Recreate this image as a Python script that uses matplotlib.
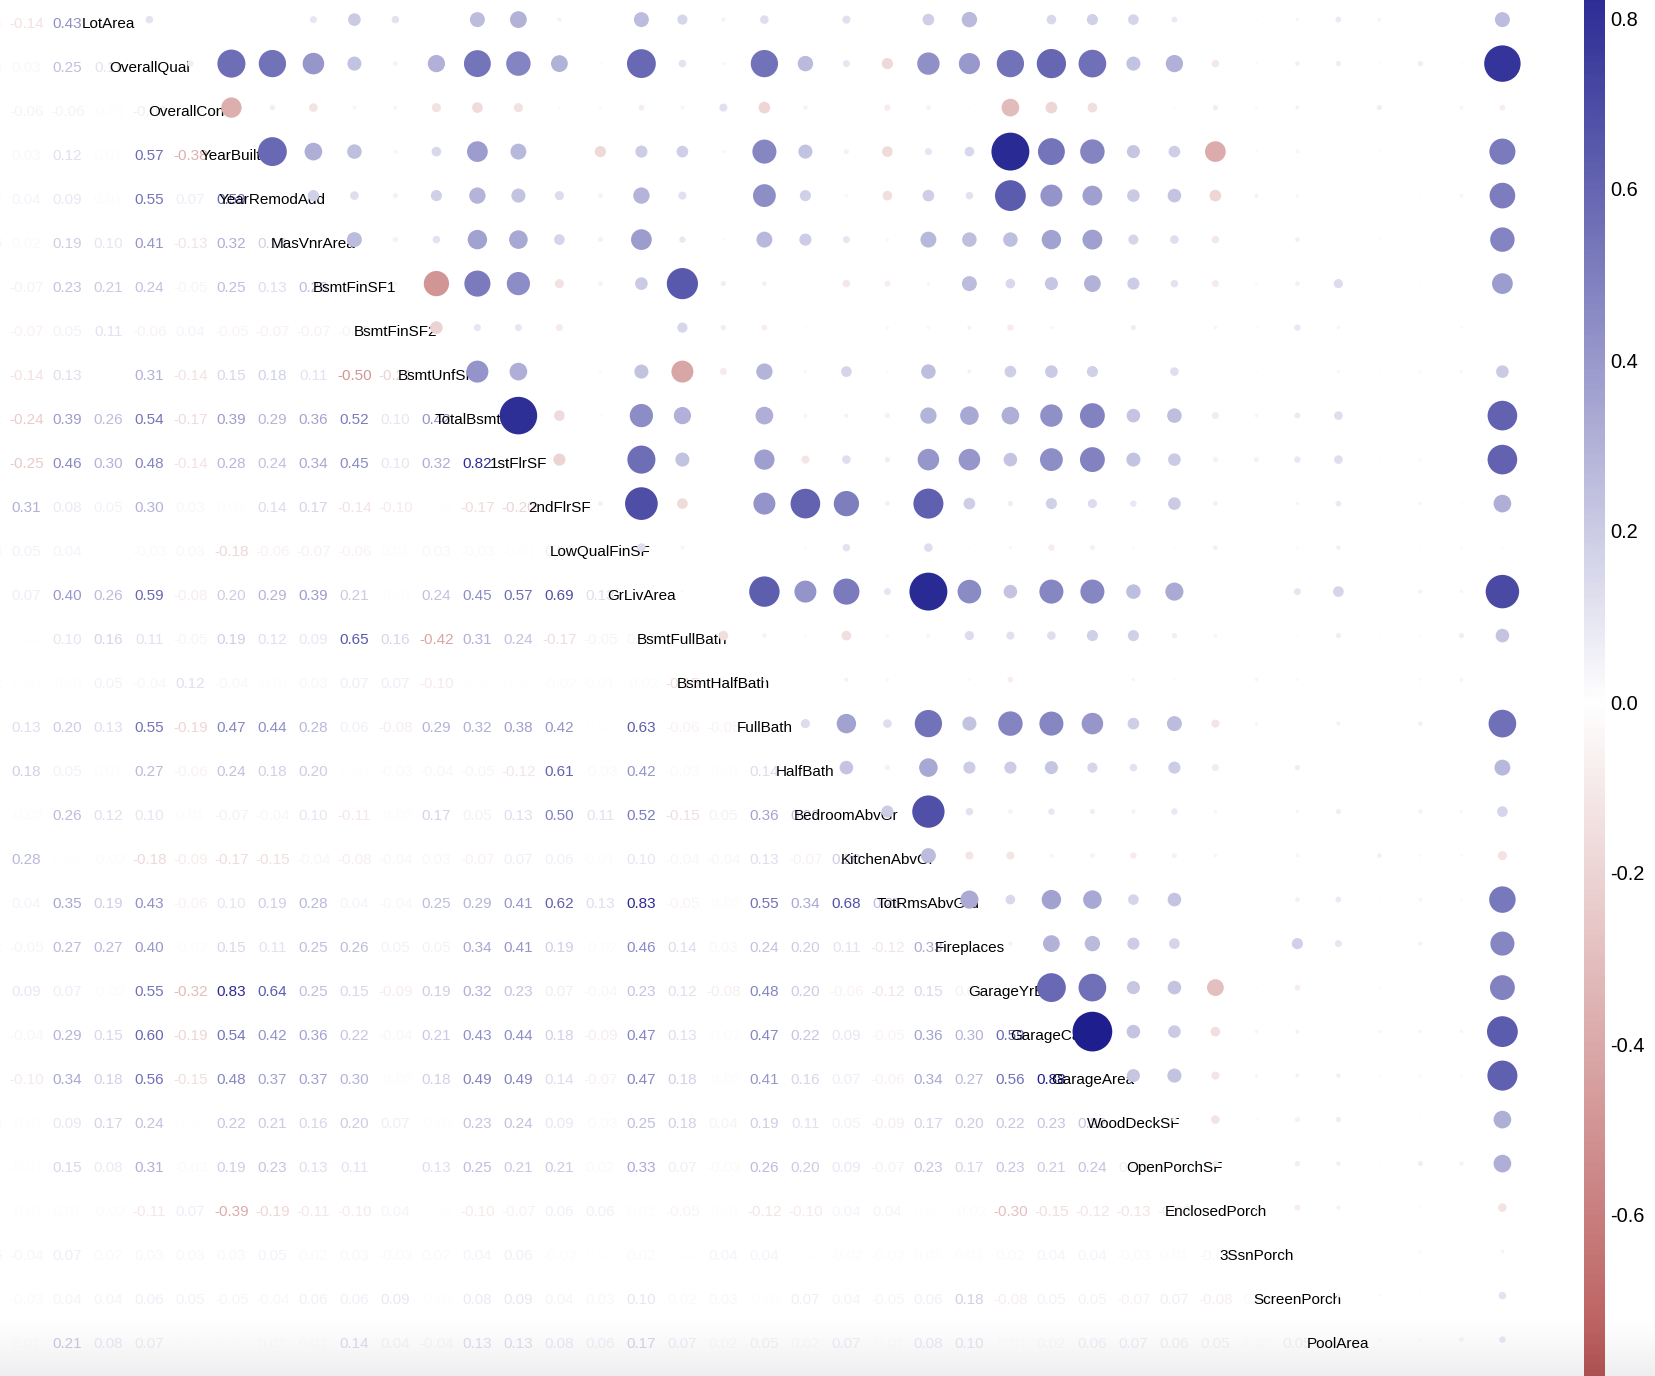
import numpy as np
import matplotlib
matplotlib.use("Agg")
import matplotlib.pyplot as plt
from matplotlib.colors import LinearSegmentedColormap, Normalize

# ---------------- data ----------------
variables = ["Id", "MSSubClass", "LotFrontage", "LotArea", "OverallQual", "OverallCond",
             "YearBuilt", "YearRemodAdd", "MasVnrArea", "BsmtFinSF1", "BsmtFinSF2",
             "BsmtUnfSF", "TotalBsmtSF", "1stFlrSF", "2ndFlrSF", "LowQualFinSF",
             "GrLivArea", "BsmtFullBath", "BsmtHalfBath", "FullBath", "HalfBath",
             "BedroomAbvGr", "KitchenAbvGr", "TotRmsAbvGrd", "Fireplaces", "GarageYrBlt",
             "GarageCars", "GarageArea", "WoodDeckSF", "OpenPorchSF", "EnclosedPorch",
             "3SsnPorch", "ScreenPorch", "PoolArea", "MiscVal", "MoSold", "YrSold", "SalePrice"]

# lower-triangle rows (correlation with Id, MSSubClass, LotFrontage, ... preceding variables)
r_LotArea = [-0.03, -0.14, 0.43]
r_OverallQual = [-0.03, 0.03, 0.25, 0.11]
r_OverallCond = [0.01, -0.06, -0.06, -0.01, -0.09]
r_YearBuilt = [-0.01, 0.03, 0.12, 0.01, 0.57, -0.38]
r_YearRemodAdd = [-0.02, 0.04, 0.09, 0.01, 0.55, 0.07, 0.59]
r_MasVnrArea = [-0.05, 0.02, 0.19, 0.10, 0.41, -0.13, 0.32, 0.18]
r_BsmtFinSF1 = [-0.01, -0.07, 0.23, 0.21, 0.24, -0.05, 0.25, 0.13, 0.26]
r_BsmtFinSF2 = [-0.01, -0.07, 0.05, 0.11, -0.06, 0.04, -0.05, -0.07, -0.07, -0.05]
r_BsmtUnfSF = [-0.01, -0.14, 0.13, 0.00, 0.31, -0.14, 0.15, 0.18, 0.11, -0.50, -0.21]
r_TotalBsmtSF = [-0.02, -0.24, 0.39, 0.26, 0.54, -0.17, 0.39, 0.29, 0.36, 0.52, 0.10, 0.42]
r_1stFlrSF = [0.01, -0.25, 0.46, 0.30, 0.48, -0.14, 0.28, 0.24, 0.34, 0.45, 0.10, 0.32, 0.82]
r_2ndFlrSF = [0.01, 0.31, 0.08, 0.05, 0.30, 0.03, 0.01, 0.14, 0.17, -0.14, -0.10, 0.00, -0.17, -0.20]
r_LowQualFinSF = [-0.04, 0.05, 0.04, 0.00, -0.03, 0.03, -0.18, -0.06, -0.07, -0.06, 0.01, 0.03,
                  -0.03, -0.01, 0.06]
r_GrLivArea = [0.01, 0.07, 0.40, 0.26, 0.59, -0.08, 0.20, 0.29, 0.39, 0.21, -0.01, 0.24, 0.45,
               0.57, 0.69, 0.13]
r_BsmtFullBath = [0.00, 0.00, 0.10, 0.16, 0.11, -0.05, 0.19, 0.12, 0.09, 0.65, 0.16, -0.42, 0.31,
                  0.24, -0.17, -0.05, 0.03]
r_BsmtHalfBath = [-0.02, 0.00, -0.01, 0.05, -0.04, 0.12, -0.04, -0.01, 0.03, 0.07, 0.07, -0.10,
                  0.00, 0.00, -0.02, 0.01, -0.02, -0.15]
r_FullBath = [0.01, 0.13, 0.20, 0.13, 0.55, -0.19, 0.47, 0.44, 0.28, 0.06, -0.08, 0.29, 0.32,
              0.38, 0.42, 0.00, 0.63, -0.06, -0.05]
r_HalfBath = [0.01, 0.18, 0.05, 0.01, 0.27, -0.06, 0.24, 0.18, 0.20, 0.00, -0.03, -0.04, -0.05,
              -0.12, 0.61, -0.03, 0.42, -0.03, -0.01, 0.14]
r_BedroomAbvGr = [0.04, -0.02, 0.26, 0.12, 0.10, 0.01, -0.07, -0.04, 0.10, -0.11, -0.02, 0.17,
                  0.05, 0.13, 0.50, 0.11, 0.52, -0.15, 0.05, 0.36, 0.23]
r_KitchenAbvGr = [0.00, 0.28, 0.00, -0.02, -0.18, -0.09, -0.17, -0.15, -0.04, -0.08, -0.04, 0.03,
                  -0.07, 0.07, 0.06, 0.01, 0.10, -0.04, -0.04, 0.13, -0.07, 0.20]
r_TotRmsAbvGrd = [0.03, 0.04, 0.35, 0.19, 0.43, -0.06, 0.10, 0.19, 0.28, 0.04, -0.04, 0.25, 0.29,
                  0.41, 0.62, 0.13, 0.83, -0.05, -0.02, 0.55, 0.34, 0.68, 0.26]
r_Fireplaces = [-0.02, -0.05, 0.27, 0.27, 0.40, -0.02, 0.15, 0.11, 0.25, 0.26, 0.05, 0.05, 0.34,
                0.41, 0.19, -0.02, 0.46, 0.14, 0.03, 0.24, 0.20, 0.11, -0.12, 0.33]
r_GarageYrBlt = [0.00, 0.09, 0.07, -0.02, 0.55, -0.32, 0.83, 0.64, 0.25, 0.15, -0.09, 0.19, 0.32,
                 0.23, 0.07, -0.04, 0.23, 0.12, -0.08, 0.48, 0.20, -0.06, -0.12, 0.15, 0.05]
r_GarageCars = [0.02, -0.04, 0.29, 0.15, 0.60, -0.19, 0.54, 0.42, 0.36, 0.22, -0.04, 0.21, 0.43,
                0.44, 0.18, -0.09, 0.47, 0.13, -0.02, 0.47, 0.22, 0.09, -0.05, 0.36, 0.30, 0.59]
r_GarageArea = [0.02, -0.10, 0.34, 0.18, 0.56, -0.15, 0.48, 0.37, 0.37, 0.30, -0.02, 0.18, 0.49,
                0.49, 0.14, -0.07, 0.47, 0.18, -0.02, 0.41, 0.16, 0.07, -0.06, 0.34, 0.27, 0.56, 0.88]
r_WoodDeckSF = [-0.03, -0.01, 0.09, 0.17, 0.24, 0.00, 0.22, 0.21, 0.16, 0.20, 0.07, -0.01, 0.23,
                0.24, 0.09, -0.03, 0.25, 0.18, 0.04, 0.19, 0.11, 0.05, -0.09, 0.17, 0.20, 0.22,
                0.23, 0.22]
r_OpenPorchSF = [0.00, -0.01, 0.15, 0.08, 0.31, -0.03, 0.19, 0.23, 0.13, 0.11, 0.00, 0.13, 0.25,
                 0.21, 0.21, 0.02, 0.33, 0.07, -0.03, 0.26, 0.20, 0.09, -0.07, 0.23, 0.17, 0.23,
                 0.21, 0.24, 0.06]
r_EnclosedPorch = [0.00, -0.01, 0.01, -0.02, -0.11, 0.07, -0.39, -0.19, -0.11, -0.10, 0.04, 0.00,
                   -0.10, -0.07, 0.06, 0.06, 0.01, -0.05, -0.01, -0.12, -0.10, 0.04, 0.04, 0.00,
                   -0.02, -0.30, -0.15, -0.12, -0.13, -0.09]
r_3SsnPorch = [-0.05, -0.04, 0.07, 0.02, 0.03, 0.03, 0.03, 0.05, 0.02, 0.03, -0.03, 0.02, 0.04,
               0.06, -0.02, 0.00, 0.02, 0.00, 0.04, 0.04, 0.00, -0.02, -0.02, 0.01, 0.01, 0.02,
               0.04, 0.04, -0.03, 0.01, -0.04]
r_ScreenPorch = [0.00, -0.03, 0.04, 0.04, 0.06, 0.05, -0.05, -0.04, 0.06, 0.06, 0.09, -0.01, 0.08,
                 0.09, 0.04, 0.03, 0.10, 0.02, 0.03, -0.01, 0.07, 0.04, -0.05, 0.06, 0.18, -0.08,
                 0.05, 0.05, -0.07, 0.07, -0.08, -0.03]
r_PoolArea = [0.06, 0.01, 0.21, 0.08, 0.07, 0.00, 0.00, 0.01, 0.01, 0.14, 0.04, -0.04, 0.13, 0.13,
              0.08, 0.06, 0.17, 0.07, 0.02, 0.05, 0.02, 0.07, -0.01, 0.08, 0.10, -0.01, 0.02, 0.06,
              0.07, 0.06, 0.05, -0.01, 0.05]

# correlations of LotArea..PoolArea with the last four variables
c_MiscVal = [0.04, -0.03, 0.07, -0.03, -0.01, -0.03, 0.00, 0.00, -0.02, -0.02, -0.02, 0.02, 0.00,
             0.00, -0.02, -0.01, -0.01, 0.00, 0.01, 0.06, 0.02, 0.00, -0.03, -0.04, -0.03, -0.01,
             -0.02, 0.02, 0.00, 0.03, 0.03]
c_MoSold = [0.00, 0.07, 0.00, 0.01, 0.02, -0.01, -0.02, -0.02, 0.03, 0.01, 0.03, 0.04, -0.02, 0.05,
            -0.03, 0.03, 0.06, -0.01, 0.05, 0.03, 0.04, 0.05, 0.01, 0.04, 0.03, 0.02, 0.07, -0.03,
            0.03, 0.02, -0.03]
c_YrSold = [-0.01, -0.03, 0.04, -0.01, 0.04, -0.01, 0.01, 0.03, -0.04, -0.01, -0.01, -0.03, -0.03,
            -0.04, 0.07, -0.05, -0.02, -0.01, -0.04, 0.03, -0.03, -0.02, 0.00, -0.04, -0.03, 0.02,
            -0.06, -0.01, 0.02, 0.01, -0.06]
c_SalePrice = [0.26, 0.79, -0.08, 0.52, 0.51, 0.48, 0.39, -0.01, 0.21, 0.61, 0.61, 0.32, -0.03,
               0.71, 0.23, -0.02, 0.56, 0.28, 0.17, -0.14, 0.53, 0.47, 0.49, 0.64, 0.62, 0.32,
               0.32, -0.13, 0.04, 0.11, 0.09]

colorbar_ticks = [-0.6, -0.4, -0.2, 0.0, 0.2, 0.4, 0.6, 0.8]

lower_rows = [r_LotArea, r_OverallQual, r_OverallCond, r_YearBuilt, r_YearRemodAdd, r_MasVnrArea,
              r_BsmtFinSF1, r_BsmtFinSF2, r_BsmtUnfSF, r_TotalBsmtSF, r_1stFlrSF, r_2ndFlrSF,
              r_LowQualFinSF, r_GrLivArea, r_BsmtFullBath, r_BsmtHalfBath, r_FullBath, r_HalfBath,
              r_BedroomAbvGr, r_KitchenAbvGr, r_TotRmsAbvGrd, r_Fireplaces, r_GarageYrBlt,
              r_GarageCars, r_GarageArea, r_WoodDeckSF, r_OpenPorchSF, r_EnclosedPorch,
              r_3SsnPorch, r_ScreenPorch, r_PoolArea]
FIRST = 3
n = len(variables)
M = np.full((n, n), np.nan)
for k, vals in enumerate(lower_rows):
    i = FIRST + k
    assert len(vals) == i, (variables[i], len(vals))
    M[i, :i] = vals
    M[:i, i] = vals
LAST = FIRST + len(lower_rows) - 1
for col, arr in zip(range(34, 38), [c_MiscVal, c_MoSold, c_YrSold, c_SalePrice]):
    M[FIRST:LAST + 1, col] = arr
    M[col, FIRST:LAST + 1] = arr

# ---------------- style ----------------
cmap = LinearSegmentedColormap.from_list("bwn", ["#A52A2A", "#FFFFFF", "#000080"])
norm = Normalize(-1, 1)
FONT = "Liberation Sans"
W, H, DPI = 1656, 1376, 100
fig = plt.figure(figsize=(W / DPI, H / DPI), dpi=DPI)
fig.patch.set_facecolor("white")

# main grid: column j centre at 26.4 + 41*(j-1) px, row i centre at 19.6 + 44*(i-3) px
main_w = 1560
ax = fig.add_axes([0, 0, main_w / W, 1])
ax.set_xlim(1 - 26.4 / 41, 1 + (main_w - 26.4) / 41)
ax.set_ylim(3 + (H - 19.6) / 44, 3 - 19.6 / 44)
ax.axis("off")

text_dy = 0.09
for i in range(FIRST, LAST + 1):
    for j in range(0, i):
        v = M[i, j]
        ax.text(j, i + text_dy, f"{v:.2f}", ha="center", va="center", fontsize=11,
                family=FONT, color=cmap(norm(v)), zorder=2)
    ax.text(i, i + text_dy, variables[i], ha="center", va="center", fontsize=11,
            family=FONT, color="black", zorder=3)

xs, ys, vs = [], [], []
for i in range(FIRST, LAST + 1):
    for j in range(i + 1, n):
        xs.append(j)
        ys.append(i)
        vs.append(M[i, j])
vs = np.array(vs)
diam_px = 44 * np.abs(vs) ** 0.8
sizes = (diam_px * 72 / DPI) ** 2
ax.scatter(xs, ys, s=sizes, c=cmap(norm(vs)), linewidths=0, zorder=4)

# colour bar: value v at y_px = 702 - 855 v
cax = fig.add_axes([1584 / W, 0, 20 / W, 1])
grad = np.linspace(-1, 1, 600).reshape(-1, 1)
cax.imshow(grad, aspect="auto", cmap=cmap, norm=norm, origin="lower", extent=[0, 1, -1, 1])
cax.set_ylim((702 - H) / 855, 702 / 855)
cax.set_xlim(0, 1)
cax.set_xticks([])
cax.yaxis.tick_right()
cax.set_yticks(colorbar_ticks)
cax.set_yticklabels([f"{t:.1f}" for t in colorbar_ticks], fontsize=14.4, family=FONT)
cax.tick_params(axis="y", length=0, pad=4.5)
for s in cax.spines.values():
    s.set_visible(False)

# faint grey shading at the bottom edge of the screenshot (darkest at the very bottom)
ov = fig.add_axes([0, 0, 1, 66 / H], zorder=10)
ramp = np.linspace(1, 0, 64) ** 1.4
rgba = np.zeros((64, 1, 4))
rgba[:, 0, 0] = 0.05
rgba[:, 0, 1] = 0.05
rgba[:, 0, 2] = 0.15
rgba[:, 0, 3] = 0.07 * ramp
ov.imshow(rgba, aspect="auto", origin="lower", extent=[0, 1, 0, 1])
ov.axis("off")

fig.savefig("out.png", dpi=DPI, facecolor="white")
